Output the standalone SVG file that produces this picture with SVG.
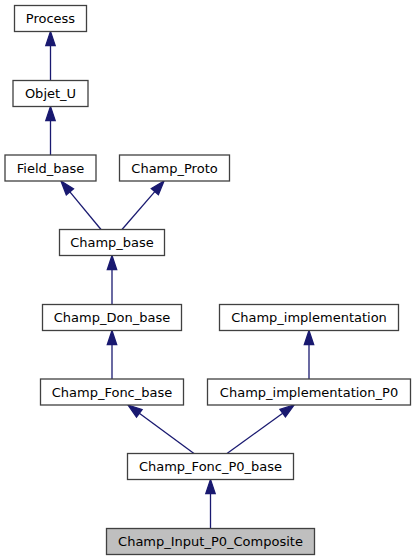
<svg xmlns="http://www.w3.org/2000/svg" width="416" height="560" viewBox="0 0 416 560">
<style>
.n rect{fill:#ffffff;stroke:#404040;stroke-width:1.3}
.n.cur rect{fill:#bfbfbf}
.n text{font-family:"DejaVu Sans",sans-serif;font-size:13px;text-anchor:middle;fill:#000}
.e line{stroke:#191970;stroke-width:1.3}
.e polygon{fill:#191970;stroke:#191970;stroke-width:1.3}
</style>
<rect width="416" height="560" fill="#ffffff"/>
<g id="connectors" class="e">
<line x1="50.5" y1="80.5" x2="50.5" y2="45.5"/><polygon points="50.5,31.5 45.8,45.5 55.2,45.5"/>
<line x1="50.5" y1="155" x2="50.5" y2="120.5"/><polygon points="50.5,106.5 45.8,120.5 55.2,120.5"/>
<line x1="101" y1="229.5" x2="69.9" y2="191.8"/><polygon points="61,181 73.5,188.8 66.3,194.8"/>
<line x1="122" y1="229.5" x2="154.8" y2="191.6"/><polygon points="164,181 158.4,194.7 151.3,188.5"/>
<line x1="112" y1="304.5" x2="112" y2="269.5"/><polygon points="112,255.5 107.3,269.5 116.7,269.5"/>
<line x1="112" y1="379" x2="112" y2="344.5"/><polygon points="112,330.5 107.3,344.5 116.7,344.5"/>
<line x1="309" y1="379" x2="309" y2="344.5"/><polygon points="309,330.5 304.3,344.5 313.7,344.5"/>
<line x1="194" y1="453.5" x2="139.3" y2="413.3"/><polygon points="128,405 142.1,409.5 136.5,417.1"/>
<line x1="227" y1="453.5" x2="282.7" y2="413.2"/><polygon points="294,405 285.4,417 279.9,409.4"/>
<line x1="210.5" y1="528.5" x2="210.5" y2="493.5"/><polygon points="210.5,479.5 205.8,493.5 215.2,493.5"/>
</g>
<g id="Process" class="n"><rect x="14.5" y="5.5" width="72" height="26"/><text x="50.5" y="23">Process</text></g>
<g id="Objet_U" class="n"><rect x="13" y="80.5" width="75" height="26"/><text x="50.5" y="98">Objet_U</text></g>
<g id="Field_base" class="n"><rect x="5" y="155" width="91" height="26"/><text x="50.5" y="172.5">Field_base</text></g>
<g id="Champ_Proto" class="n"><rect x="119.5" y="155" width="110" height="26"/><text x="174.5" y="172.5">Champ_Proto</text></g>
<g id="Champ_base" class="n"><rect x="59.5" y="229.5" width="105" height="26"/><text x="112" y="247">Champ_base</text></g>
<g id="Champ_Don_base" class="n"><rect x="42.5" y="304.5" width="139" height="26"/><text x="112" y="322">Champ_Don_base</text></g>
<g id="Champ_implementation" class="n"><rect x="219.5" y="304.5" width="179" height="26"/><text x="309" y="322">Champ_implementation</text></g>
<g id="Champ_Fonc_base" class="n"><rect x="40.5" y="379" width="143" height="26"/><text x="112" y="396.5">Champ_Fonc_base</text></g>
<g id="Champ_implementation_P0" class="n"><rect x="207.5" y="379" width="203" height="26"/><text x="309" y="396.5">Champ_implementation_P0</text></g>
<g id="Champ_Fonc_P0_base" class="n"><rect x="127.5" y="453.5" width="166" height="26"/><text x="210.5" y="471">Champ_Fonc_P0_base</text></g>
<g id="Champ_Input_P0_Composite" class="n cur"><rect x="106.5" y="528.5" width="208" height="26"/><text x="210.5" y="546">Champ_Input_P0_Composite</text></g>
</svg>
